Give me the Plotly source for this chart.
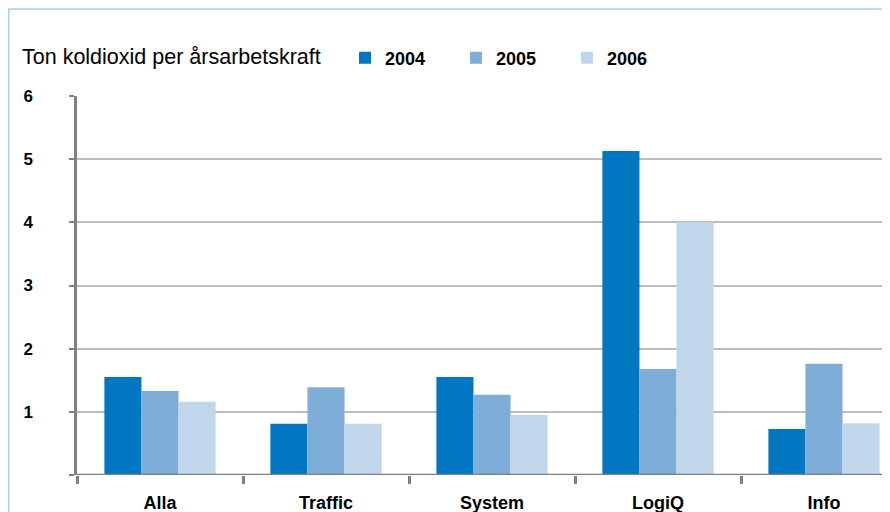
import plotly.graph_objects as go

categories = ["Alla", "Traffic", "System", "LogiQ", "Info"]
years = ["2004", "2005", "2006"]
values_2004 = [1.55, 0.81, 1.55, 5.13, 0.73]
values_2005 = [1.33, 1.39, 1.27, 1.68, 1.76]
values_2006 = [1.16, 0.81, 0.95, 4.00, 0.82]
colors = ["#0077C0", "#7EADD8", "#C0D7EB"]
y_ticks = [0, 1, 2, 3, 4, 5, 6]
y_tick_labels = ["", "1", "2", "3", "4", "5", "6"]

FONT = "Liberation Sans, Arial, sans-serif"

fig = go.Figure()
for name, vals, col in zip(years, [values_2004, values_2005, values_2006], colors):
    fig.add_trace(go.Bar(x=categories, y=vals, name=f"<b>{name}</b>",
                         marker=dict(color=col, line=dict(width=0))))

# page body has an 8px margin; figure sized to fit the window
W, H = 882, 504
L, T, B = 69, 88, 37
plot_w = W - L
ph = H - T - B
cat_px = 166
x_hi = -0.5 + plot_w / cat_px

fig.update_layout(
    width=W, height=H,
    margin=dict(l=L, r=0, t=T, b=B, pad=0),
    paper_bgcolor="white", plot_bgcolor="white",
    barmode="group", bargap=0.33, bargroupgap=0,
    font=dict(family=FONT, color="black"),
    title=dict(text="Ton koldioxid per årsarbetskraft", x=14 / W, xanchor="left",
               xref="container", y=1 - 48 / H, yanchor="middle", yref="container",
               font=dict(size=21.5, family=FONT, color="black")),
    legend=dict(orientation="h", x=337 / W, xanchor="left", xref="container",
                y=1 - 50 / H, yanchor="middle", yref="container",
                font=dict(size=18, family=FONT, color="black"),
                entrywidth=66, entrywidthmode="pixels", bgcolor="rgba(0,0,0,0)"),
    xaxis=dict(range=[-0.5, x_hi], showgrid=False, showline=False, zeroline=False,
               ticks="outside", tickson="boundaries", ticklen=8, tickwidth=2.5,
               tickcolor="#808080", tickfont=dict(size=18, family=FONT, color="black"),
               tickvals=categories, ticktext=[f"<b>{c}</b>" for c in categories],
               ticklabelstandoff=15, fixedrange=True),
    yaxis=dict(range=[0, 6], tickvals=y_ticks,
               ticktext=[f"<b>{t}</b>" if t else "" for t in y_tick_labels],
               showgrid=True, gridcolor="#BDBDBD", gridwidth=1.6,
               showline=True, linecolor="#808080", linewidth=2.5,
               zeroline=False, ticks="outside", ticklen=5, tickwidth=2, tickcolor="#808080",
               tickfont=dict(size=17, family=FONT, color="black"),
               ticklabelstandoff=33, fixedrange=True),
)

# baseline at value 0
fig.add_shape(type="line", xref="paper", yref="y", x0=0, x1=1, y0=0, y1=0,
              line=dict(color="#808080", width=2.5), layer="above")

# outer light-blue frame (left and top edges visible)
fig.add_shape(type="rect", xref="paper", yref="paper",
              x0=(0.75 - L) / plot_w, x1=(W + 20 - L) / plot_w,
              y0=-(B + 20) / ph, y1=(H - B - 1) / ph,
              line=dict(color="#A9D3E8", width=1.5), fillcolor="rgba(0,0,0,0)", layer="below")

fig.write_html("out.html")
